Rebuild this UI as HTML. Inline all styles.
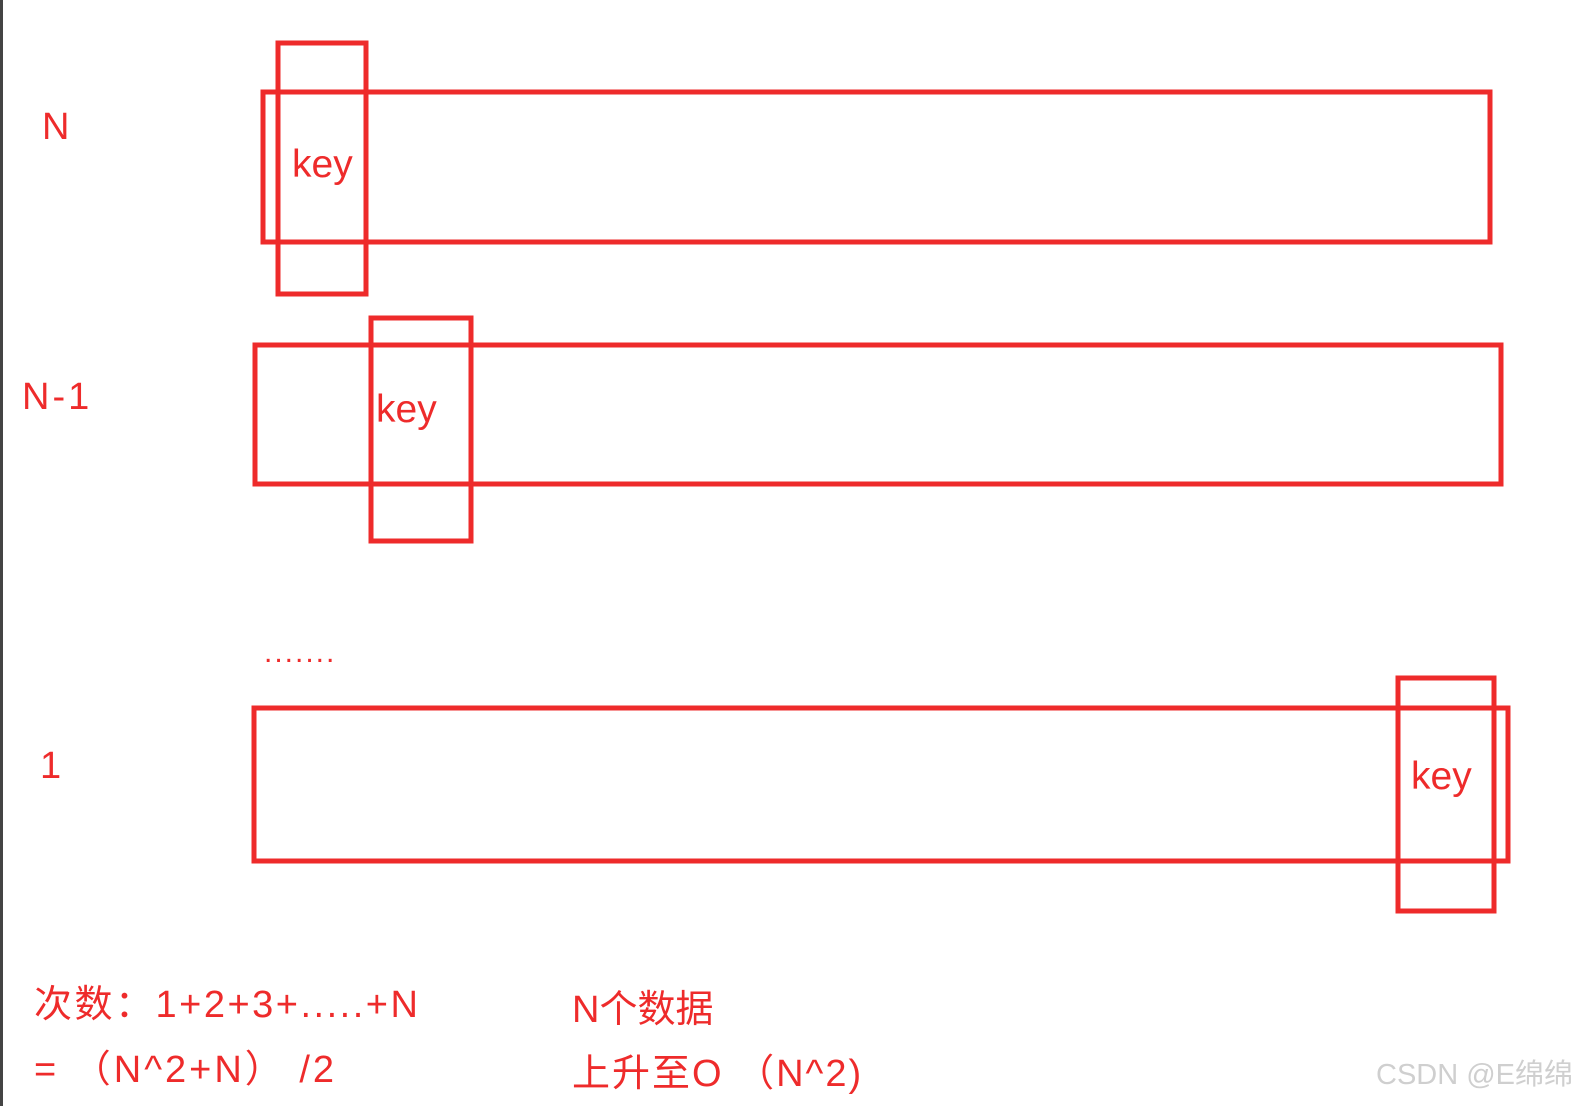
<!DOCTYPE html>
<html><head><meta charset="utf-8"><style>
html,body{margin:0;padding:0;background:#fff;}
svg{display:block;}
text{font-family:"Liberation Sans","Noto Sans CJK SC",sans-serif;fill:#ee2b2b;}
</style></head><body>
<svg width="1575" height="1106" viewBox="0 0 1575 1106" xmlns="http://www.w3.org/2000/svg">
<rect x="0" y="0" width="3" height="1106" fill="#444"/>
<g fill="none" stroke="#ee2b2b" stroke-width="5">
<rect x="263" y="92" width="1227" height="150"/>
<rect x="278" y="43" width="88" height="251"/>
<rect x="255" y="345" width="1246" height="139"/>
<rect x="371" y="318" width="100" height="223"/>
<rect x="254" y="708" width="1254" height="153"/>
<rect x="1398" y="678" width="96" height="233"/>
</g>
<text x="42" y="139" font-size="38">N</text>
<text x="22" y="409" font-size="38" letter-spacing="3">N-1</text>
<text x="40" y="778" font-size="38">1</text>
<text x="292" y="177" font-size="39">key</text>
<text x="376" y="422" font-size="39">key</text>
<text x="1411" y="789" font-size="39">key</text>
<text x="264" y="662" font-size="30" letter-spacing="2">.......</text>
<text x="34" y="1017" font-size="38" letter-spacing="2.5">次数：1+2+3+.....+N</text>
<text x="34" y="1082" font-size="38" letter-spacing="3">= （N^2+N） /2</text>
<text x="572" y="1022" font-size="38">N个数据</text>
<text x="572" y="1086" font-size="38" letter-spacing="2">上升至O （N^2)</text>
<text x="1376" y="1084" font-size="29" style="fill:#cfcfcf">CSDN @E绵绵</text>
</svg>
</body></html>
